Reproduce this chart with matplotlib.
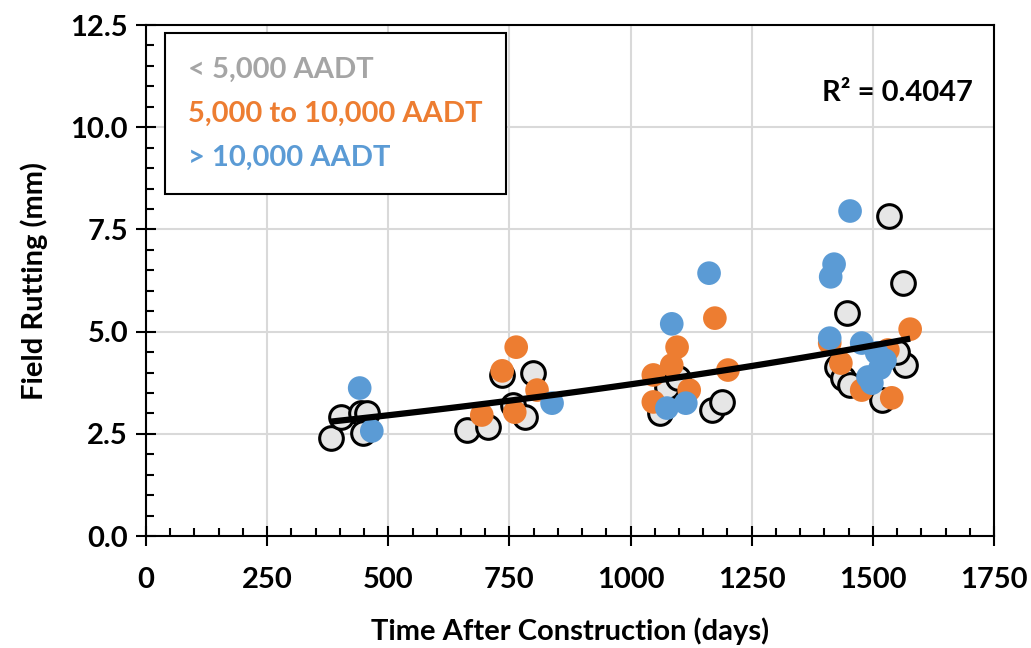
import numpy as np
import matplotlib
matplotlib.use("Agg")
import matplotlib.pyplot as plt
from matplotlib.ticker import MultipleLocator

plt.rcParams['font.family'] = ['Lato', 'DejaVu Sans']
plt.rcParams['font.weight'] = 'bold'

# < 5,000 AADT
low_days = [382, 402, 444, 456, 448, 662, 706, 735, 757, 782, 799,
            1061, 1075, 1098, 1168, 1189,
            1533, 1562, 1446, 1426, 1566, 1438, 1453, 1525, 1519, 1550]
low_rut = [2.40, 2.91, 3.01, 3.00, 2.52, 2.59, 2.67, 3.94, 3.20, 2.91, 3.99,
           3.01, 3.65, 3.86, 3.08, 3.28,
           7.83, 6.19, 5.46, 4.14, 4.18, 3.86, 3.69, 4.43, 3.33, 4.50]

# 5,000 to 10,000 AADT
mid_days = [693, 735, 764, 761, 807,
            1174, 1096, 1085, 1047, 1201, 1121, 1047,
            1577, 1411, 1434, 1477, 1531, 1539]
mid_rut = [2.96, 4.04, 4.62, 3.03, 3.57,
           5.33, 4.62, 4.18, 3.94, 4.06, 3.57, 3.28,
           5.06, 4.72, 4.23, 3.57, 4.55, 3.38]

# > 10,000 AADT
high_days = [441, 466, 838,
             1162, 1085, 1075, 1114,
             1453, 1420, 1413, 1411, 1477, 1490, 1515, 1508, 1498, 1525]
high_rut = [3.62, 2.57, 3.25,
            6.43, 5.19, 3.13, 3.25,
            7.95, 6.65, 6.34, 4.84, 4.72, 3.89, 4.11, 4.48, 3.74, 4.30]

r2_text = 'R² = 0.4047'

fig = plt.figure(figsize=(10.31, 6.48), dpi=100)
ax = fig.add_axes([0.1416, 0.1728, 0.8225, 0.7886])

ms = 290
ax.scatter(low_days, low_rut, s=ms, c='#E6E6E6', edgecolors='black',
           linewidths=2.2, zorder=3)
ax.scatter(mid_days, mid_rut, s=ms, c='#ED7D31', edgecolors='none', zorder=4)
ax.scatter(high_days, high_rut, s=ms, c='#5B9BD5', edgecolors='none', zorder=5)

# exponential trendline over all points (Excel style: fit on ln y)
all_x = np.array(low_days + mid_days + high_days, dtype=float)
all_y = np.array(low_rut + mid_rut + high_rut, dtype=float)
b, ln_a = np.polyfit(all_x, np.log(all_y), 1)
xs = np.linspace(all_x.min(), all_x.max(), 100)
ax.plot(xs, np.exp(ln_a) * np.exp(b * xs), color='black', lw=4.5, zorder=6,
        solid_capstyle='butt')

ax.set_xlim(0, 1750)
ax.set_ylim(0, 12.5)
ax.xaxis.set_major_locator(MultipleLocator(250))
ax.xaxis.set_minor_locator(MultipleLocator(50))
ax.yaxis.set_major_locator(MultipleLocator(2.5))
ax.yaxis.set_minor_locator(MultipleLocator(0.5))
ax.yaxis.set_major_formatter(matplotlib.ticker.FormatStrFormatter('%.1f'))
ax.tick_params(which='major', direction='inout', length=14, width=1.5,
               labelsize=21)
ax.tick_params(axis='x', which='major', pad=15)
ax.tick_params(axis='y', which='major', pad=6)
ax.tick_params(which='minor', direction='in', length=6, width=1.5)
for lab in ax.get_xticklabels() + ax.get_yticklabels():
    lab.set_fontweight('bold')
ax.grid(which='major', color='#D9D9D9', lw=1.5, zorder=0)
ax.set_axisbelow(True)
for s in ax.spines.values():
    s.set_linewidth(1.5)

ax.set_xlabel('Time After Construction (days)', fontsize=21, fontweight='bold',
              labelpad=18)
ax.set_ylabel('Field Rutting (mm)', fontsize=21, fontweight='bold', labelpad=16)

ax.text(0.975, 0.866, r2_text, transform=ax.transAxes, ha='right',
        va='center', fontsize=21, fontweight='bold', zorder=7)

# legend box with coloured text only
handles = [plt.Line2D([], [], ls='none') for _ in range(3)]
leg = ax.legend(handles, ['< 5,000 AADT', '5,000 to 10,000 AADT', '> 10,000 AADT'],
                loc='upper left', bbox_to_anchor=(0.022, 0.984), handlelength=0,
                handletextpad=0, fancybox=False, framealpha=1,
                edgecolor='black', borderpad=0.8, labelspacing=0.62,
                borderaxespad=0, prop={'weight': 'bold', 'size': 21})
leg.get_frame().set_linewidth(1.5)
for t, c in zip(leg.get_texts(), ['#A5A5A5', '#ED7D31', '#5B9BD5']):
    t.set_color(c)
leg.set_zorder(8)

fig.savefig('out.png', dpi=100)
